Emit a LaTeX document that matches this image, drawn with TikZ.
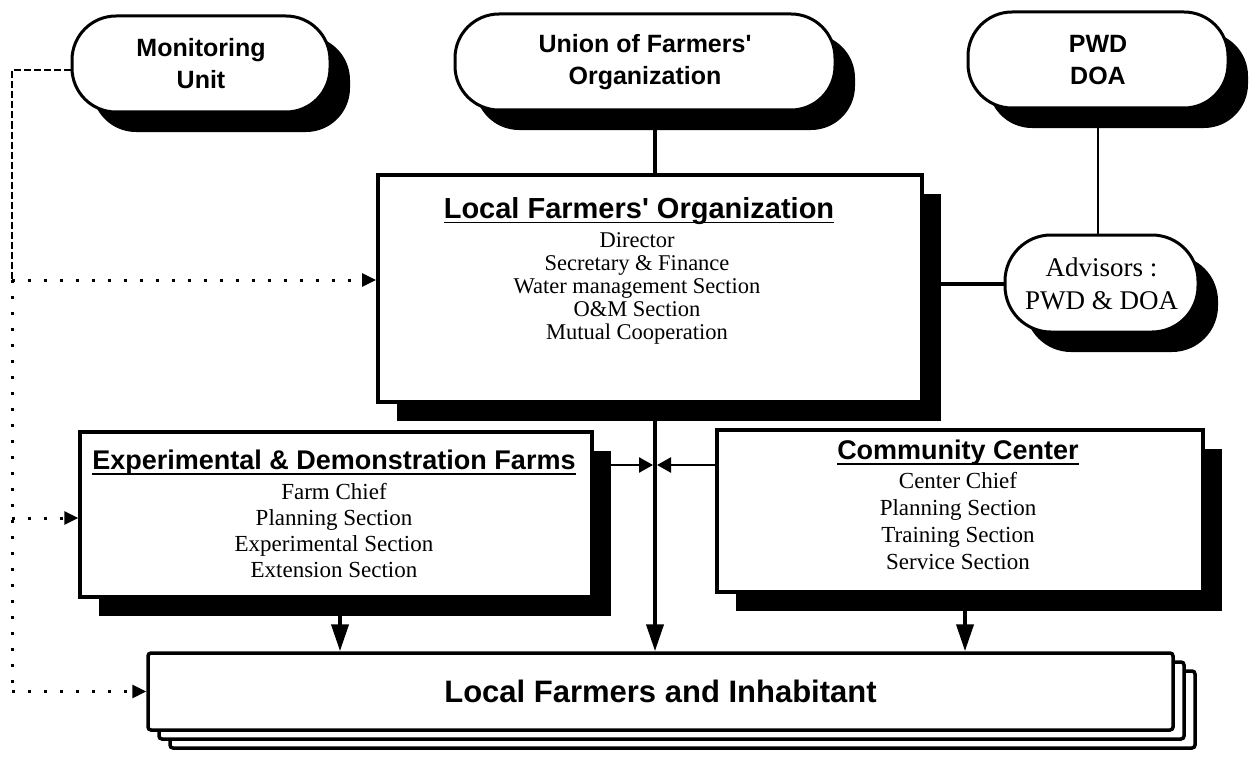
\documentclass[tikz,border=0pt]{standalone}
\usepackage{fontspec}
\setmainfont{Liberation Serif}
\setsansfont{Liberation Sans}[Ligatures=TeXOff]
\usetikzlibrary{shadows,arrows.meta}
\begin{document}
\begin{tikzpicture}[x=1pt,y=-1pt,
  blackshadow/.style={drop shadow={shadow xshift=#1, shadow yshift=-#1, opacity=1, fill=black}},
  pill/.style={draw, line width=3pt, fill=white, rounded corners=44pt, inner sep=0pt, align=center,
     blackshadow=20pt},
  lbl/.style={font=\sffamily\bfseries\fontsize{25}{32}\selectfont},
  orgbox/.style={draw, line width=3.5pt, fill=white, inner sep=0pt, blackshadow=19pt},
  ttl/.style={font=\sffamily\bfseries\fontsize{27}{30}\selectfont, inner sep=0pt},
  lst/.style={align=center, inner sep=0pt, anchor=north},
  uline/.style={line width=1.8pt},
  link/.style={line width=4pt},
  down/.style={line width=4pt, -{Triangle[width=17pt,length=27pt]}},
  side/.style={line width=2.5pt, -{Triangle[width=15pt,length=14pt]}, shorten >=2pt},
  dotline/.style={line width=3pt, dash pattern=on 3pt off 13pt},
  dotarrow/.style={dotline, -{Triangle[width=13pt,length=14pt]}},
  fineline/.style={line width=2pt, dash pattern=on 7pt off 3pt},
]
\useasboundingbox (0,0) rectangle (1257,757);

% --- top row of bodies ---
\node[pill, lbl, minimum width=258pt, minimum height=96pt] (mon) at (201,64) {Monitoring\\Unit};
\node[pill, lbl, minimum width=380pt, minimum height=96pt] (union) at (645,62) {Union of Farmers'\\Organization};
\node[pill, lbl, minimum width=260pt, minimum height=96pt] (pwd) at (1098,60) {PWD\\DOA};

% --- local farmers' organization ---
\node[orgbox, line width=4pt, minimum width=544pt, minimum height=227pt] (lfo) at (650,288.5) {};
\node[ttl, font=\sffamily\bfseries\fontsize{29}{30}\selectfont] (lfoT) at (639,211) {Local Farmers' Organization};
\draw[uline] ([yshift=-4pt]lfoT.base west) -- ([yshift=-4pt]lfoT.base east);
\node[lst, font=\fontsize{22.5}{23}\selectfont] (lfoL) at (637,232)
  {Director\\Secretary \& Finance\\Water management Section\\O\&M Section\\Mutual Cooperation};

% --- advisors ---
\node[pill, rounded corners=46pt, minimum width=193pt, minimum height=97pt,
      font=\fontsize{27}{33}\selectfont] (adv) at (1101.5,283.5) {Advisors :\\PWD \& DOA};

% --- experimental & demonstration farms ---
\node[orgbox, minimum width=512pt, minimum height=165pt] (exp) at (336,514.5) {};
\node[ttl] (expT) at (334,463) {Experimental \& Demonstration Farms};
\draw[uline] ([yshift=-4pt]expT.base west) -- ([yshift=-4pt]expT.base east);
\node[lst, font=\fontsize{23}{26}\selectfont] (expL) at (334,483)
  {Farm Chief\\Planning Section\\Experimental Section\\Extension Section};

% --- community center ---
\node[orgbox, minimum width=486pt, minimum height=162pt] (cc) at (960,511) {};
\node[ttl] (ccT) at (958,453) {Community Center};
\draw[uline] ([yshift=-4pt]ccT.base west) -- ([yshift=-4pt]ccT.base east);
\node[lst, font=\fontsize{23}{27}\selectfont] (ccL) at (958,472)
  {Center Chief\\Planning Section\\Training Section\\Service Section};

% --- local farmers and inhabitant (stacked sheets) ---
\node[draw, line width=3.5pt, fill=white, rounded corners=3pt,
      general shadow={shadow xshift=22pt, shadow yshift=-18pt, draw=black, fill=white, line width=3.5pt},
      general shadow={shadow xshift=11pt, shadow yshift=-9pt, draw=black, fill=white, line width=3.5pt},
      minimum width=1025pt, minimum height=77pt,
      font=\sffamily\bfseries\fontsize{31}{33}\selectfont] (bot) at (660.5,691.5) {Local Farmers and Inhabitant};

% --- solid connectors ---
\coordinate (trunk) at (655,420);
\coordinate (mid) at (655,465);
\draw[link] (union.south -| trunk) -- (lfo.north -| trunk);
\draw[line width=2pt] (pwd.south) -- (pwd.south |- adv.north);
\draw[link] (adv.west -| lfo.east) -- (adv.west);
\draw[down] (lfo.south -| trunk) -- (bot.north -| trunk);
\draw[side] (exp.east |- mid) -- (mid);
\draw[side] (cc.west |- mid) -- (mid);
\draw[down] ([xshift=4pt]exp.south) -- ([xshift=4pt]exp.south |- bot.north);
\draw[down] ([xshift=5pt]cc.south) -- ([xshift=5pt]cc.south |- bot.north);

% --- monitoring links ---
\coordinate (cTop) at (12,70);
\coordinate (jL) at (12,280);
\coordinate (jE) at (12,518);
\coordinate (cBot) at (cTop |- bot.west);
\draw[fineline] (mon.west |- cTop) -- (cTop) -- (jL);
\draw[dotline] (jL) -- (cBot);
\draw[dotarrow] (jL) -- (jL -| lfo.west);
\draw[dotarrow] (jE) -- (jE -| exp.west);
\draw[dotarrow] (cBot) -- (bot.west);
\end{tikzpicture}
\end{document}
